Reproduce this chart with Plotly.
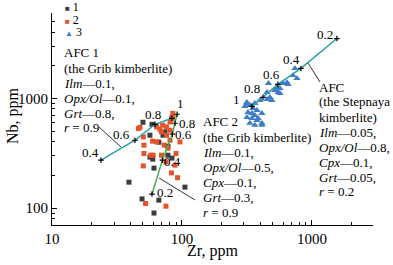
import plotly.graph_objects as go
import numpy as np

# ---------------- data ----------------
s1_zr = [50.1, 58.8, 71.4, 66.4, 78.0, 56.7, 59.6, 78.0, 60.9, 39.1, 105.4, 49.3, 66.4, 60.9, 56.7, 83.8, 74.0]
s1_nb = [605, 580, 461, 398, 366, 291, 279, 303, 231, 172, 155, 121, 118, 90, 461, 285, 495]

s2_zr = [47.5, 67.7, 83.0, 85.0, 81.0, 50.4, 59.5, 51.0, 57.6, 50.4, 88.3, 46.2, 51.0, 60.0,
         63.8, 71.0, 76.0, 69.6, 76.0, 80.9, 63.8, 69.6, 73.0, 90.0, 75.3, 83.0, 92.5, 96.5,
         52.5, 75.3, 80.9, 78.0, 85.0, 84.0]
s2_nb = [545, 522, 653, 676, 609, 445, 407, 374, 303, 242, 246, 530, 314, 303,
         549, 569, 549, 494, 461, 512, 401, 303, 374, 314, 263, 209, 189, 401,
         110, 104, 415, 351, 730, 670]

s3_zr = [740, 714, 767, 642, 598, 655, 463, 538, 567, 519, 550, 567, 451, 475, 492, 451,
         364, 398, 316, 305, 316, 333, 352, 378, 322, 345, 364, 316, 345, 378, 412, 333,
         364, 412, 385, 412]
s3_nb = [1874, 1619, 1520, 1397, 1370, 1340, 1370, 1259, 1233, 1183, 1134, 1110, 1134, 1021, 959, 980,
         901, 959, 901, 846, 920, 863, 811, 778, 746, 731, 700, 672, 658, 631, 731, 593,
         569, 593, 658, 569]

afc1_f = ["0.4", "0.6", "0.8", "1"]
afc1_zr = [23.8, 43.5, 62.0, 83.6]
afc1_nb = [273, 415, 580, 658]

afc2_f = ["0.2", "0.4", "0.6", "0.8", "1"]
afc2_zr = [58.8, 70.7, 84.4, 88.3, 91.6]
afc2_nb = [134, 273, 471, 593, 716]

afc3_f = ["1", "0.8", "0.6", "0.4", "0.2"]
afc3_zr = [345, 420, 547, 822, 1556]
afc3_nb = [846, 1021, 1340, 1874, 3510]

x_ticks = [10, 100, 1000]
y_ticks = [100, 1000]

# ---------------- style ----------------
FONT = "Liberation Serif, Times New Roman, serif"
C_DARK = "#3c3c3c"
C_ORANGE = "#e4532b"
C_BLUE = "#3e7cc7"
C_TEAL = "#2aa0a6"
C_GREEN = "#4caf50"

W, H = 393, 265
L, R, T, B = 52, 20, 13, 40
PW, PH = W - L - R, H - T - B
X0, Y1 = L, H - B  # plot-area left / bottom in pixels


def px(x):
    return (x - X0) / PW


def py(y):
    return (Y1 - y) / PH


fig = go.Figure()

fig.add_trace(go.Scatter(x=s1_zr, y=s1_nb, mode="markers", name="1", showlegend=False,
                         marker=dict(symbol="square", size=5, color=C_DARK)))
fig.add_trace(go.Scatter(x=s2_zr, y=s2_nb, mode="markers", name="2", showlegend=False,
                         marker=dict(symbol="square", size=5, color=C_ORANGE)))
fig.add_trace(go.Scatter(x=s3_zr, y=s3_nb, mode="markers", name="3", showlegend=False,
                         marker=dict(symbol="triangle-up", size=6.5, color=C_BLUE)))

for zr, nb, col in [(afc1_zr, afc1_nb, C_TEAL), (afc2_zr, afc2_nb, C_GREEN), (afc3_zr, afc3_nb, C_TEAL)]:
    fig.add_trace(go.Scatter(x=zr, y=nb, mode="lines", showlegend=False,
                             line=dict(color=col, width=1.5)))
    fig.add_trace(go.Scatter(x=zr, y=nb, mode="markers", showlegend=False,
                             marker=dict(symbol="cross-thin", size=4,
                                         line=dict(width=1.2, color="black"))))

annots = []
tf = dict(family=FONT, size=13, color="black")

# point labels (shift in pixels)
shifts1 = [(-10, 8), (-13, 6), (-2, 10), (None, None)]
for f, zr, nb, (dx, dy) in zip(afc1_f, afc1_zr, afc1_nb, shifts1):
    if dx is None:
        continue
    annots.append(dict(x=np.log10(zr), y=np.log10(nb), text=f, showarrow=False,
                       xshift=dx, yshift=dy, font=tf))
shifts2 = [(13, 2), (10, -1), (11, 0), (12, 0), (3, 11)]
for f, zr, nb, (dx, dy) in zip(afc2_f, afc2_zr, afc2_nb, shifts2):
    annots.append(dict(x=np.log10(zr), y=np.log10(nb), text=f, showarrow=False,
                       xshift=dx, yshift=dy, font=tf))
shifts3 = [(-15, 7), (-11, 9), (-6, 10), (-9, 9), (-12, 4)]
for f, zr, nb, (dx, dy) in zip(afc3_f, afc3_zr, afc3_nb, shifts3):
    annots.append(dict(x=np.log10(zr), y=np.log10(nb), text=f, showarrow=False,
                       xshift=dx, yshift=dy, font=tf))

# text blocks
blocks = [
    (62, [52.5, 68, 83.5, 98.5, 113, 127.5],
     ["AFC 1", "(the Grib kimberlite)", "<i>Ilm</i>—0.1,", "<i>Opx/Ol</i>—0.1,",
      "<i>Grt</i>—0.8,", "<i>r</i> = 0.9"]),
    (201, [122, 137, 152, 167, 182, 197, 212],
     ["AFC 2", "(the Grib kimberlite)", "<i>Ilm</i>—0.1,", "<i>Opx/Ol</i>—0.5,",
      "<i>Cpx</i>—0.1,", "<i>Grt</i>—0.3,", "<i>r</i> = 0.9"]),
    (317, [87, 102, 117, 132, 147, 162, 177, 191],
     ["AFC", "(the Stepnaya", "kimberlite)", "<i>Ilm</i>—0.05,", "<i>Opx/Ol</i>—0.8,",
      "<i>Cpx</i>—0.1,", "<i>Grt</i>—0.05,", "<i>r</i> = 0.2"]),
]
for x0, ys, lines in blocks:
    for yy, t in zip(ys, lines):
        annots.append(dict(xref="paper", yref="paper", x=px(x0), y=py(yy), text=t,
                           showarrow=False, xanchor="left", yanchor="middle", font=tf))

# custom legend
leg = [("■", C_DARK, "1", 7), ("■", C_ORANGE, "2", 19.5), ("▲", C_BLUE, "3", 32)]
for sym, col, lab, yy in leg:
    annots.append(dict(xref="paper", yref="paper", x=px(63), y=py(yy),
                       text=f"<span style='color:{col};font-size:8px'>{sym}</span> {lab}",
                       showarrow=False, xanchor="left", yanchor="middle",
                       font=dict(family=FONT, size=12, color="black")))

# axis titles
annots.append(dict(xref="paper", yref="paper", x=px(212), y=py(251), text="Zr, ppm",
                   showarrow=False, xanchor="center", yanchor="middle",
                   font=dict(family=FONT, size=16, color="black")))
annots.append(dict(xref="paper", yref="paper", x=px(13), y=py(116), text="Nb, ppm",
                   showarrow=False, xanchor="center", yanchor="middle", textangle=-90,
                   font=dict(family=FONT, size=16, color="black")))

# leader lines
shapes = []
for (x0, y0, x1, y1) in [(99, 127, 121, 147), (159, 178, 195, 200), (308, 63, 320, 82)]:
    shapes.append(dict(type="line", xref="paper", yref="paper",
                       x0=px(x0), y0=py(y0), x1=px(x1), y1=py(y1),
                       line=dict(color="black", width=0.8)))

minor_x = [v * m for v in [10, 100, 1000] for m in range(2, 10) if v * m < 3000]
minor_y = [v * m for v in [10, 100, 1000] for m in range(2, 10) if 70 <= v * m <= 6000]

fig.update_layout(
    width=W, height=H,
    margin=dict(l=L, r=R, t=T, b=B, autoexpand=False),
    plot_bgcolor="white", paper_bgcolor="white",
    font=dict(family=FONT, size=15, color="black"),
    annotations=annots, shapes=shapes, showlegend=False,
    xaxis=dict(type="log", range=[1, np.log10(2950)], showgrid=False, zeroline=False,
               automargin=False,
               showline=True, linecolor="black", linewidth=1,
               ticks="inside", ticklen=5, tickcolor="black", tickvals=x_ticks,
               ticktext=[str(v) for v in x_ticks],
               minor=dict(ticks="inside", ticklen=3, tickvals=minor_x, tickcolor="black")),
    yaxis=dict(type="log", range=[np.log10(70), np.log10(6000)], showgrid=False, zeroline=False,
               automargin=False,
               showline=True, linecolor="black", linewidth=1,
               ticks="inside", ticklen=5, tickcolor="black", tickvals=y_ticks,
               ticktext=[str(v) for v in y_ticks],
               minor=dict(ticks="inside", ticklen=3, tickvals=minor_y, tickcolor="black")),
)

# remove the default page margin so the figure fills the window exactly
fig.write_html("out.html", config={"displayModeBar": False},
               post_script="document.body.style.margin='0';")
